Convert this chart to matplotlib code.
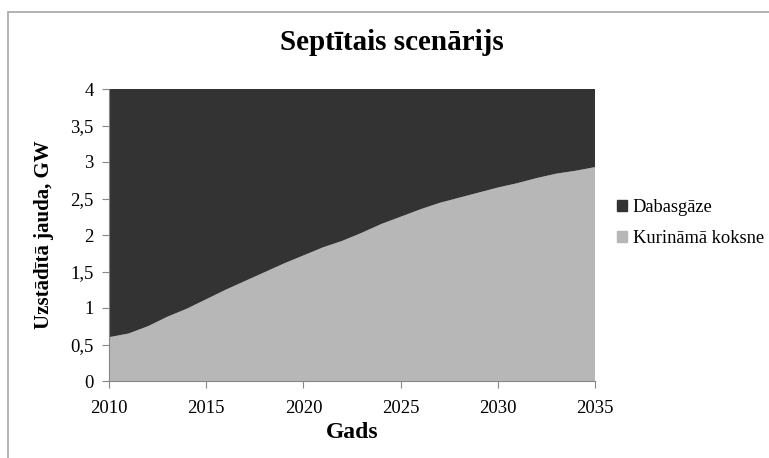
import matplotlib
matplotlib.use("Agg")
import matplotlib.pyplot as plt
import numpy as np
from matplotlib.patches import Rectangle

plt.rcParams['font.family'] = ['Liberation Serif', 'DejaVu Serif']

years = np.arange(2010, 2036)
# installed capacity, GW
koksne = [0.60, 0.65, 0.75, 0.88, 0.99, 1.12, 1.25, 1.37, 1.49, 1.61,
          1.72, 1.83, 1.92, 2.03, 2.15, 2.25, 2.35, 2.44, 2.51, 2.58,
          2.65, 2.71, 2.78, 2.84, 2.88, 2.93]
total = 4.0
dabasgaze = [total - k for k in koksne]

labels = ['Dabasgāze', 'Kurināmā koksne']
colors = ['#333333', '#b7b7b7']

fig = plt.figure(figsize=(7.69, 4.58), dpi=100)
ax = fig.add_axes([109/769, 1 - 381/458, (595 - 109)/769, (381 - 89)/458])

ax.stackplot(years, koksne, dabasgaze, colors=[colors[1], colors[0]], linewidth=0)

ax.set_xlim(2010, 2035)
ax.set_ylim(0, 4)
ax.set_xticks([2010, 2015, 2020, 2025, 2030, 2035])
yt = np.arange(0, 4.01, 0.5)
ax.set_yticks(yt)
ax.set_yticklabels([('%g' % v).replace('.', ',') for v in yt])
for s in ['top', 'right']:
    ax.spines[s].set_visible(False)
for s in ['left', 'bottom']:
    ax.spines[s].set_color('#868686')
ax.tick_params(colors='#868686', labelcolor='black', labelsize=13.5, length=5, direction='out')
ax.tick_params(axis='x', pad=9)
ax.tick_params(axis='y', pad=6)

ax.set_xlabel('Gads', fontsize=17, fontweight='bold', labelpad=3)
ax.set_ylabel('Uzstādītā jauda, GW', fontsize=15, fontweight='bold', labelpad=12)
fig.text(392/769, 1 - 42/458, 'Septītais scenārijs', fontsize=21, fontweight='bold',
         ha='center', va='center')

handles = [Rectangle((0, 0), 1, 1, color=c) for c in colors]
fig.legend(handles, labels, loc='center left', bbox_to_anchor=(617/769, 1 - 223/458),
           frameon=False, fontsize=13.3, handlelength=0.55, handleheight=0.55,
           handletextpad=0.3, labelspacing=0.75, borderaxespad=0, borderpad=0)

fig.patches.append(Rectangle((8/769, -0.1), 1, 1 - 12/458 + 0.1, transform=fig.transFigure,
                             fill=False, edgecolor='#a6a6a6', linewidth=1.2))

fig.savefig('out.png', dpi=100)
